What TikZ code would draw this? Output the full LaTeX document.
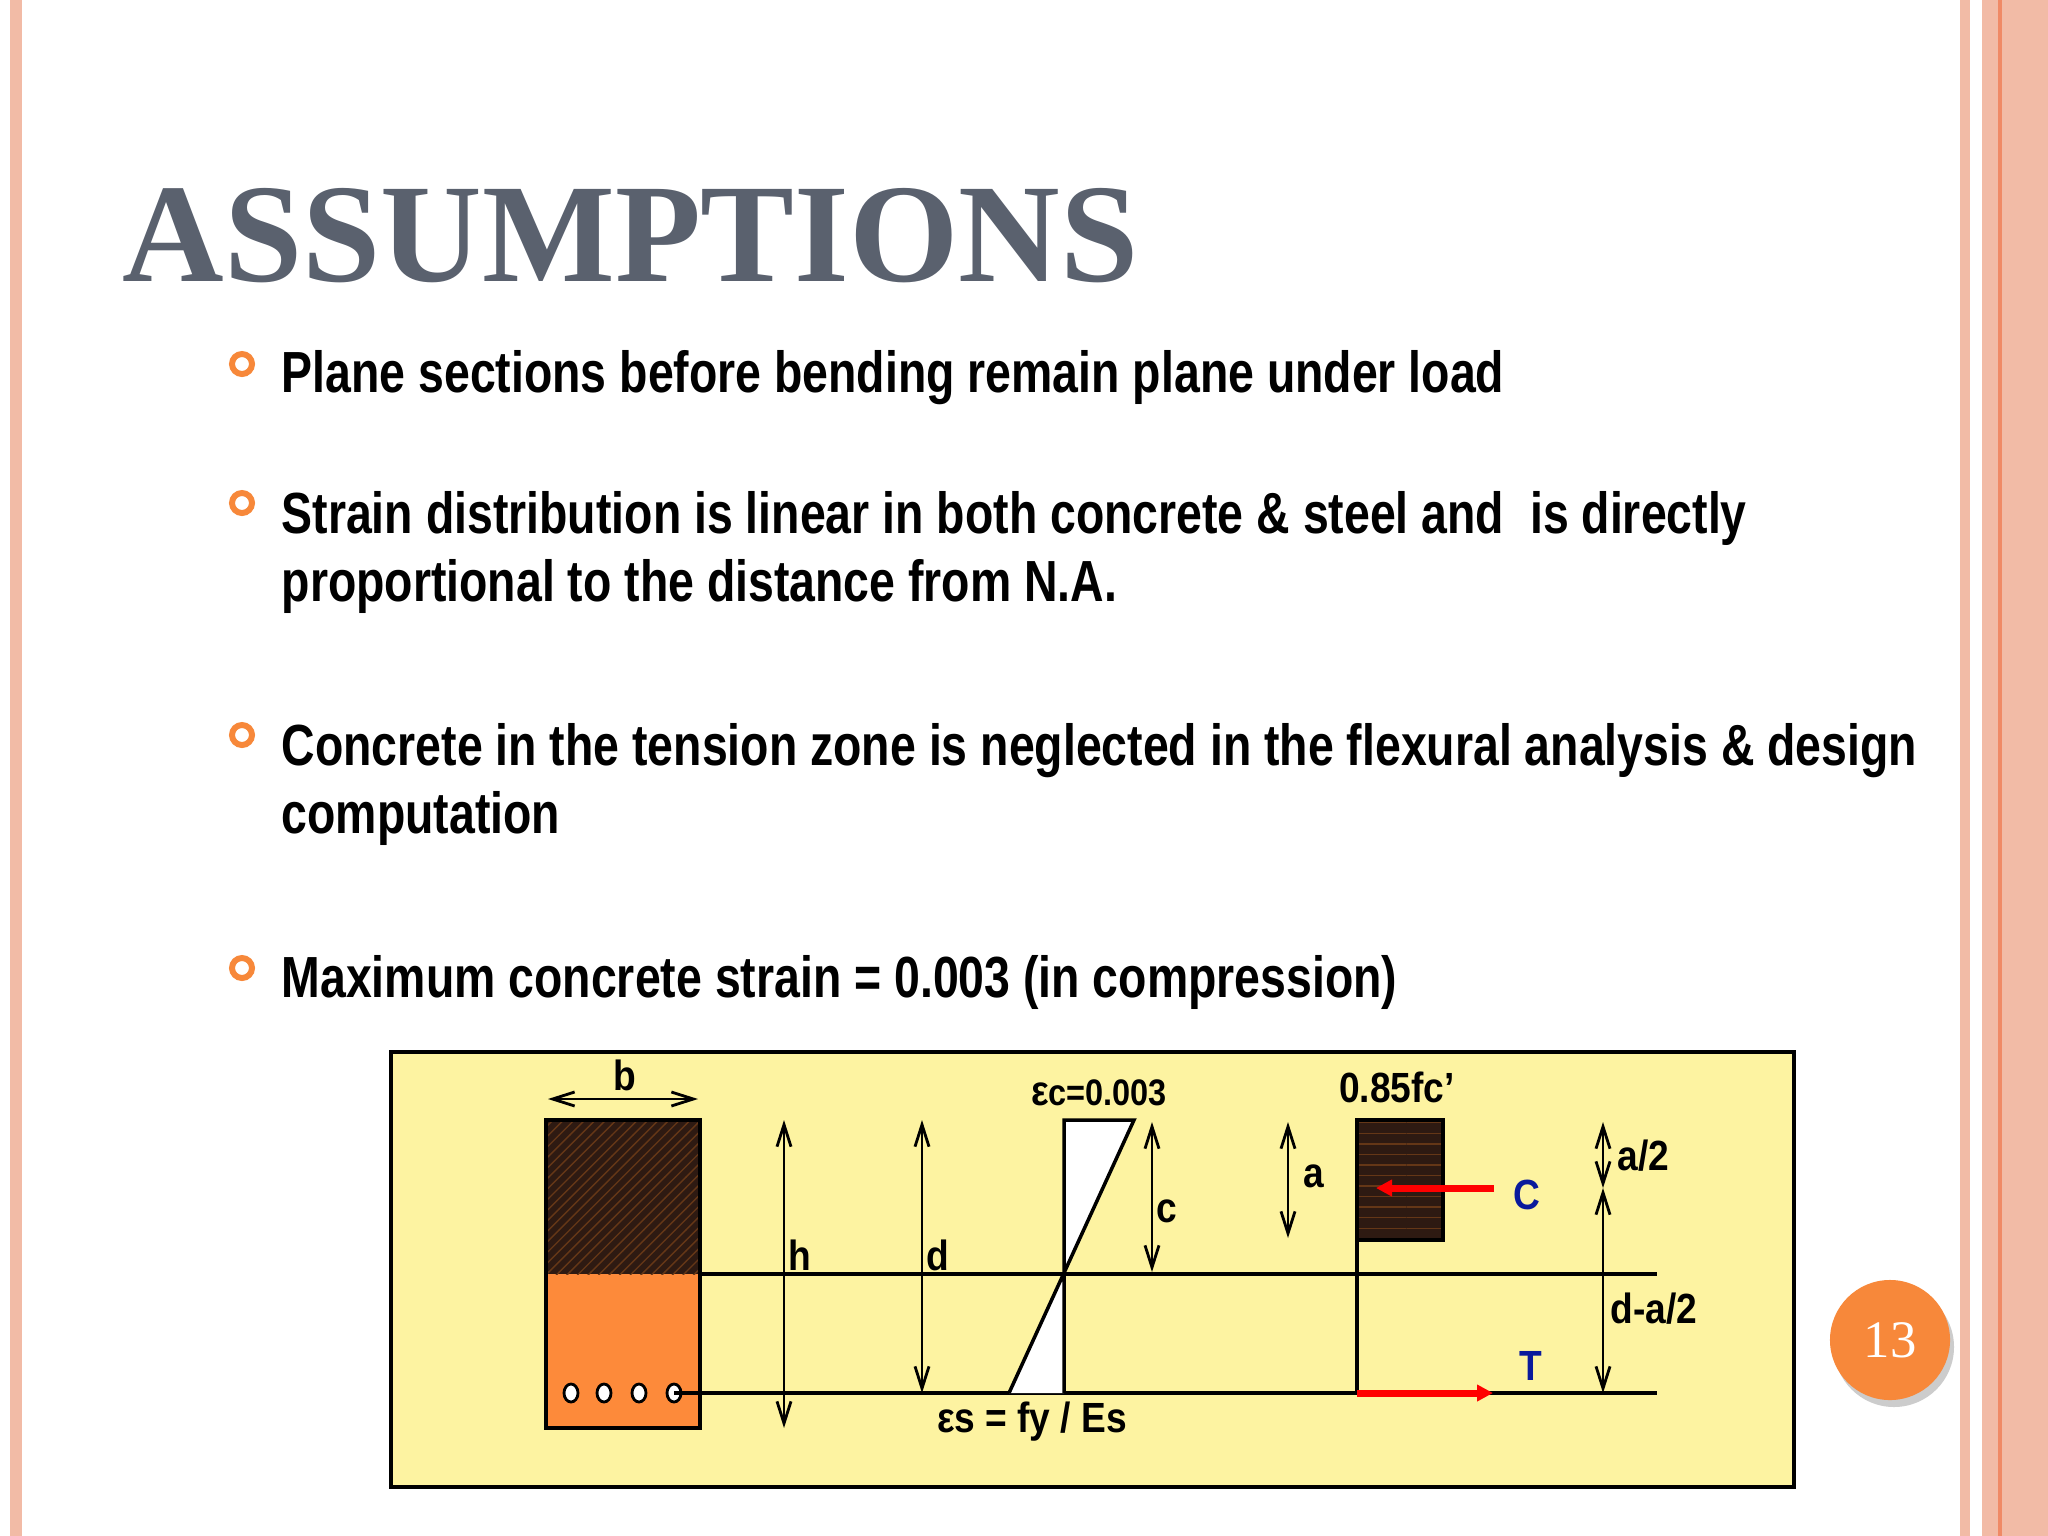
\documentclass[tikz,border=0pt]{standalone}
\usepackage{fontspec}
\setmainfont{Liberation Serif}
\newfontfamily\nar{Liberation Sans}[FakeStretch=0.8]
\newfontfamily\narl{Liberation Sans}[FakeStretch=0.88]
\usetikzlibrary{arrows.meta,patterns}
\definecolor{salmon}{HTML}{F2BBA6}
\definecolor{salmondk}{HTML}{F08A66}
\definecolor{titlegray}{HTML}{5A616E}
\definecolor{bulorange}{HTML}{F7883A}
\definecolor{ybg}{HTML}{FDF3A1}
\definecolor{beamor}{HTML}{FD8A3A}
\definecolor{darkbr}{HTML}{2E1A12}
\definecolor{cblue}{HTML}{0A1A9C}
\tikzset{
  bul/.style={circle,draw=bulorange,line width=1.7pt,minimum size=0.2cm,inner sep=0pt},
  btxt/.style={anchor=base west,inner sep=0pt,font=\nar\bfseries\fontsize{16.5pt}{20pt}\selectfont},
  lbl/.style={inner sep=0pt,font=\narl\bfseries\fontsize{12pt}{14pt}\selectfont},
  dim/.style={line width=0.8pt,{Straight Barb[length=2.2mm,width=1.4mm]}-{Straight Barb[length=2.2mm,width=1.4mm]}},
  ln/.style={line width=1pt},
  force/.style={red,line width=2pt,-{Triangle[length=1.6mm,width=1.6mm]}}
}
\begin{document}
\begin{tikzpicture}[x=0.01cm,y=-0.01cm]
\useasboundingbox (0,0) rectangle (2048,1536);
\fill[white] (0,0) rectangle (2048,1536);
% borders
\fill[salmon] (10,0) rectangle (22,1536);
\fill[salmon] (1960,0) rectangle (1970,1536);
\fill[salmon] (1982,0) rectangle (2048,1536);
\fill[salmondk] (1998,0) rectangle (2002,1536);
% title
\node[anchor=base west,inner sep=0pt,text=titlegray,font=\bfseries\fontsize{40pt}{44pt}\selectfont] (title) at (122,281) {ASSUMPTIONS};
% bullets
\node[bul] (b1) at (242,364) {};
\node[bul] (b2) at (242,503) {};
\node[bul] (b3) at (242,735) {};
\node[bul] (b4) at (242,968) {};
\node[btxt] (t1) at (281,392) {Plane sections before bending remain plane under load};
\node[btxt] (t2) at (281,533) {Strain distribution is linear in both concrete \& steel and\ \ is directly};
\node[btxt] (t2b) at (281,601) {proportional to the distance from N.A.};
\node[btxt] (t3) at (281,765) {Concrete in the tension zone is neglected in the flexural analysis \& design};
\node[btxt] (t3b) at (281,833) {computation};
\node[btxt] (t4) at (281,997) {Maximum concrete strain = 0.003 (in compression)};
% diagram frame
\draw[fill=ybg,line width=1.2pt] (391,1052) rectangle (1794,1487);
% beam section
\fill[beamor] (546,1274) rectangle (700,1428);
\fill[darkbr] (546,1120) rectangle (700,1274);
\fill[pattern=north east lines,pattern color=beamor!40!black] (546,1120) rectangle (700,1274);
\draw[ln] (546,1120) rectangle (700,1428);
\draw[ln] (700,1274) -- (1657,1274);
\foreach \x in {571,604,639,674}
  \draw[fill=white,line width=0.8pt] (\x,1393) ellipse (7 and 9);
\draw[ln] (674,1393) -- (1657,1393);
% b
\draw[dim] (548,1099) -- (698,1099);
\node[lbl,anchor=base] (lb) at (625,1090) {b};
% h, d
\draw[dim] (784,1120) -- (784,1428);
\node[lbl,anchor=base west] (lh) at (788,1270) {h};
\draw[dim] (922,1120) -- (922,1393);
\node[lbl,anchor=base west] (ld) at (926,1270) {d};
% strain
\fill[white] (1064,1120) -- (1134,1120) -- (1064,1274) -- cycle;
\fill[white] (1064,1393) -- (1009,1393) -- (1064,1274) -- cycle;
\draw[ln] (1064,1393) -- (1064,1120) -- (1134,1120) -- (1009,1393);
\node[lbl,anchor=base] (lec) at (1099,1105) {ε\fontsize{10.5pt}{12pt}\selectfont c=0.003};
\draw[dim] (1152,1122) -- (1152,1272);
\node[lbl,anchor=base west] (lc) at (1156,1222) {c};
\node[lbl,anchor=base] (les) at (1032,1432) {εs = fy / Es};
% stress block
\draw[dim] (1288,1122) -- (1288,1238);
\node[lbl,anchor=base west] (la) at (1303,1187) {a};
\fill[darkbr] (1357,1120) rectangle (1443,1240);
\fill[pattern=horizontal lines,pattern color=beamor!40!black] (1357,1120) rectangle (1443,1240);
\draw[ln] (1357,1120) rectangle (1443,1240);
\draw[ln] (1357,1240) -- (1357,1393);
\node[lbl,anchor=base] (lf) at (1397,1102) {0.85fc’};
\coordinate (cs) at (1494,1188);
\coordinate (ce) at (1376,1188);
\draw[force] (cs) -- (ce);
\node[lbl,anchor=base,text=cblue] (lC) at (1527,1209) {C};
\coordinate (ts) at (1357,1393);
\coordinate (te) at (1493,1393);
\draw[force] (ts) -- (te);
\node[lbl,anchor=base,text=cblue] (lT) at (1531,1380) {T};
\draw[dim] (1603,1122) -- (1603,1188);
\draw[dim] (1603,1188) -- (1603,1393);
\node[lbl,anchor=base west] (la2) at (1617,1170) {a/2};
\node[lbl,anchor=base west] (lda) at (1610,1323) {d-a/2};
% page number
\fill[black!20] (1894,1347) circle (60);
\node[circle,fill=bulorange,minimum size=1.2cm,inner sep=0pt,text=white,font=\fontsize{15pt}{18pt}\selectfont] (pg) at (1890,1340) {13};
\end{tikzpicture}
\end{document}
